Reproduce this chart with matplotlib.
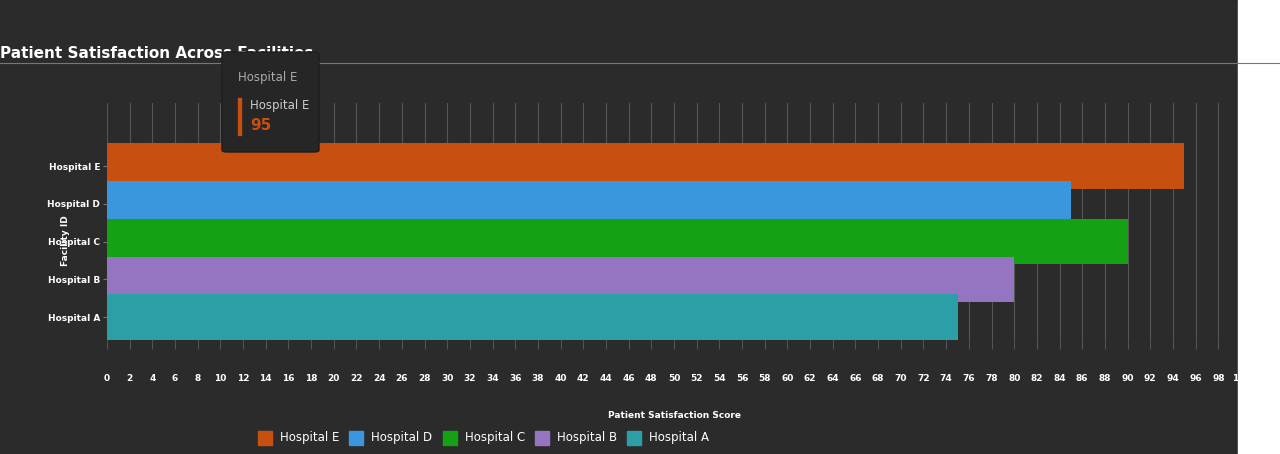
import matplotlib
matplotlib.use("Agg")
import matplotlib.pyplot as plt
from matplotlib.patches import FancyBboxPatch, Rectangle
from matplotlib.lines import Line2D

categories = ["Hospital A", "Hospital B", "Hospital C", "Hospital D", "Hospital E"]
values = [75, 80, 90, 85, 95]
colors = ["#2b9fa5", "#9575c1", "#14a114", "#3a96dd", "#c75010"]

W, H = 1280, 454
bg = "#2b2b2b"
fig = plt.figure(figsize=(W/100, H/100), dpi=100, facecolor=bg)
fig.patches.append(Rectangle((1238/W, 0), 1-1238/W, 1, transform=fig.transFigure, color="white", zorder=0))
fig.add_artist(Line2D([0, 1], [1-63/H, 1-63/H], color="#777777", lw=0.8))
fig.text(0, 1-53/H, "Patient Satisfaction Across Facilities", color="white", fontsize=11, fontweight="bold", va="center", zorder=1)

ax = fig.add_axes([107/W, 1-342/H, (1241-107)/W, (342-103)/H], facecolor=bg)
order = [4, 3, 2, 1, 0]
for i in order:
    ax.barh(i, values[i], height=1.2, color=colors[i], zorder=3)
ax.set_xlim(0, 100)
ax.set_ylim(-0.66, 5.67)
ax.set_xticks(range(0, 101, 2))
ax.set_xticklabels([str(v) for v in range(0, 101, 2)], color="white", fontsize=6.5, fontweight="bold")
ax.set_yticks(range(5))
ax.set_yticklabels(categories, color="white", fontsize=6.5, fontweight="bold")
ax.grid(axis="x", color="#555555", lw=0.8, zorder=0)
for s in ax.spines.values():
    s.set_visible(False)
ax.tick_params(axis="x", length=5, color="#555555", pad=18)
ax.tick_params(axis="y", length=3, color="#777777", pad=2)
ax.set_xlabel("Patient Satisfaction Score", color="white", fontsize=6.5, fontweight="bold", labelpad=20)
fig.text(66/W, 1-241/H, "Facility ID", color="white", fontsize=6.5, fontweight="bold", rotation=90, va="center", ha="center")

# legend
leg_order = [4, 3, 2, 1, 0]
xs = [258, 349, 443, 535, 627]
for x, i in zip(xs, leg_order):
    fig.patches.append(Rectangle((x/W, 1-445/H), 14/W, 14/H, transform=fig.transFigure, color=colors[i]))
    fig.text((x+22)/W, 1-438/H, categories[i], color="white", fontsize=8.5, va="center")

# tooltip
fig.patches.append(FancyBboxPatch((222/W, 1-152/H), 97/W, 100/H, boxstyle="round,pad=0,rounding_size=0.004",
                                  transform=fig.transFigure, facecolor="#262626", edgecolor="#1e1e1e", zorder=10))
fig.text(238/W, 1-77/H, "Hospital E", color="#aaaaaa", fontsize=8.5, va="center", zorder=11)
fig.patches.append(Rectangle((238/W, 1-135/H), 3/W, 37/H, transform=fig.transFigure, color=colors[4], zorder=11))
fig.text(250/W, 1-106/H, "Hospital E", color="#cccccc", fontsize=8.5, va="center", zorder=11)
fig.text(250/W, 1-126/H, str(values[4]), color=colors[4], fontsize=11, fontweight="bold", va="center", zorder=11)

fig.savefig("out.png", dpi=100, facecolor=bg)
